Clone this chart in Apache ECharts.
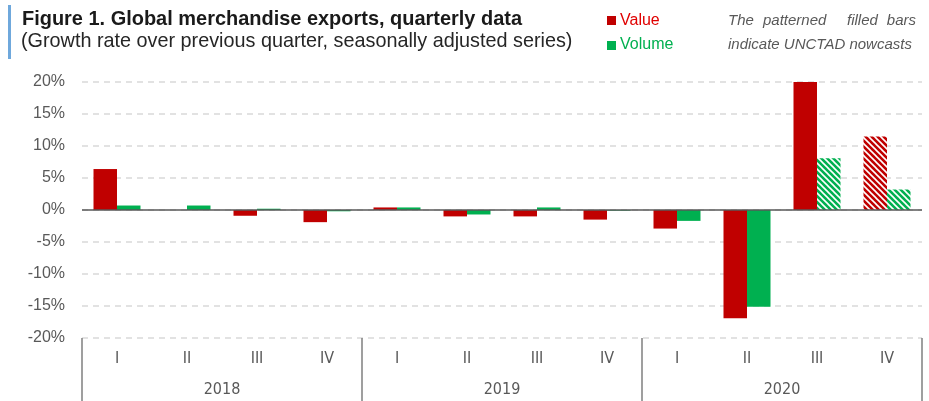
<!DOCTYPE html>
<html>
<head>
<meta charset="utf-8">
<script src="https://cdn.jsdelivr.net/npm/echarts@6/dist/echarts.min.js"></script>
<style>
html,body{margin:0;padding:0;background:#fff;}
#chart{width:929px;height:401px;}
</style>
</head>
<body>
<div id="chart"></div>
<script>
// ---- data ----
const quarters = ['I','II','III','IV','I','II','III','IV','I','II','III','IV'];
const years = ['2018','2019','2020'];
const valueData = [6.4, 0, -0.9, -1.9, 0.4, -1.0, -1.0, -1.5, -2.9, -16.9, 20.0, 11.5];
const volumeData = [0.7, 0.7, 0.2, -0.2, 0.4, -0.7, 0.4, -0.1, -1.7, -15.1, 8.1, 3.2];
const valueNowcastIndex = [11];
const volumeNowcastIndex = [10, 11];
const yTicks = [-20, -15, -10, -5, 0, 5, 10, 15, 20];

const RED = '#C00000';
const GREEN = '#00B050';

function stripe(color) {
  const c = document.createElement('canvas');
  const s = 6;
  c.width = s; c.height = s;
  const g = c.getContext('2d');
  g.fillStyle = color;
  g.fillRect(0, 0, s, s);
  g.strokeStyle = '#ffffff';
  g.lineWidth = 1.6;
  for (let k = -1; k <= 1; k++) {
    g.beginPath();
    g.moveTo(k * s - 1, -1);
    g.lineTo(k * s + s + 1, s + 1);
    g.stroke();
  }
  return {image: c, repeat: 'repeat'};
}
const redPat = stripe(RED);
const greenPat = stripe(GREEN);

function build(arr, idx, pat) {
  return arr.map((v, i) => idx.includes(i) ? {value: v, itemStyle: {color: pat}} : v);
}

const NARROW = '"Liberation Sans Narrow","Arial Narrow","DejaVu Sans Condensed",sans-serif';
const SANS = '"Liberation Sans",Arial,sans-serif';

const chart = echarts.init(document.getElementById('chart'), null, {renderer: 'canvas'});
chart.setOption({
  animation: false,
  backgroundColor: '#ffffff',
  grid: {left: 82, right: 7, top: 82, bottom: 63, containLabel: false},
  xAxis: [
    {
      type: 'category', data: quarters, position: 'bottom',
      axisLine: {show: false, onZero: false},
      axisTick: {show: false},
      axisLabel: {margin: 13, fontFamily: NARROW, fontSize: 16, color: '#595959'},
      splitLine: {show: false}
    },
    {
      type: 'category', data: years, position: 'bottom',
      axisLine: {show: false, onZero: false},
      axisTick: {show: true, length: 63, lineStyle: {color: '#808080', width: 1.5}},
      axisLabel: {margin: 44, fontFamily: NARROW, fontSize: 16, color: '#595959'},
      splitLine: {show: false}
    }
  ],
  yAxis: {
    type: 'value', min: yTicks[0], max: yTicks[yTicks.length - 1], interval: 5,
    axisLine: {show: false}, axisTick: {show: false},
    axisLabel: {formatter: '{value}%', margin: 17, fontFamily: SANS, fontSize: 16, color: '#595959'},
    splitLine: {show: true, lineStyle: {color: '#d9d9d9', type: [6, 5], width: 1.5}}
  },
  series: [
    {
      name: 'Value', type: 'bar', xAxisIndex: 0, data: build(valueData, valueNowcastIndex, redPat),
      barWidth: 23.5, barGap: '0%', itemStyle: {color: RED},
      markLine: {
        silent: true, symbol: 'none', label: {show: false},
        lineStyle: {color: '#595959', type: 'solid', width: 1.5},
        data: [{yAxis: 0}]
      }
    },
    {
      name: 'Volume', type: 'bar', xAxisIndex: 0, data: build(volumeData, volumeNowcastIndex, greenPat),
      barWidth: 23.5, barGap: '0%', itemStyle: {color: GREEN}
    }
  ],
  graphic: [
    {type: 'rect', shape: {x: 8, y: 5, width: 3, height: 54}, style: {fill: '#6FA8DC'}},
    {type: 'text', x: 22, y: 19, scaleX: 0.95, style: {text: 'Figure 1. Global merchandise exports, quarterly data', x: 0, y: 0,
      font: 'bold 21px ' + SANS, fill: '#1a1a1a', verticalAlign: 'middle'}},
    {type: 'text', x: 21, y: 41, scaleX: 0.943, style: {text: '(Growth rate over previous quarter, seasonally adjusted series)', x: 0, y: 0,
      font: '21px ' + SANS, fill: '#262626', verticalAlign: 'middle'}},
    {type: 'rect', shape: {x: 607, y: 16, width: 9, height: 9}, style: {fill: RED}},
    {type: 'text', style: {text: 'Value', x: 620, y: 21, font: '16px ' + SANS, fill: '#E00000', verticalAlign: 'middle'}},
    {type: 'rect', shape: {x: 607, y: 41, width: 9, height: 9}, style: {fill: GREEN}},
    {type: 'text', style: {text: 'Volume', x: 620, y: 45, font: '16px ' + SANS, fill: '#00B050', verticalAlign: 'middle'}},
    {type: 'text', style: {text: 'The', x: 728, y: 21, font: 'italic 15px ' + SANS, fill: '#595959', verticalAlign: 'middle'}},
    {type: 'text', style: {text: 'patterned', x: 763, y: 21, font: 'italic 15px ' + SANS, fill: '#595959', verticalAlign: 'middle'}},
    {type: 'text', style: {text: 'filled', x: 847, y: 21, font: 'italic 15px ' + SANS, fill: '#595959', verticalAlign: 'middle'}},
    {type: 'text', style: {text: 'bars', x: 916, y: 21, font: 'italic 15px ' + SANS, fill: '#595959', verticalAlign: 'middle', align: 'right'}},
    {type: 'text', style: {text: 'indicate UNCTAD nowcasts', x: 728, y: 45, font: 'italic 15px ' + SANS, fill: '#595959', verticalAlign: 'middle'}}
  ]
});
</script>
</body>
</html>
